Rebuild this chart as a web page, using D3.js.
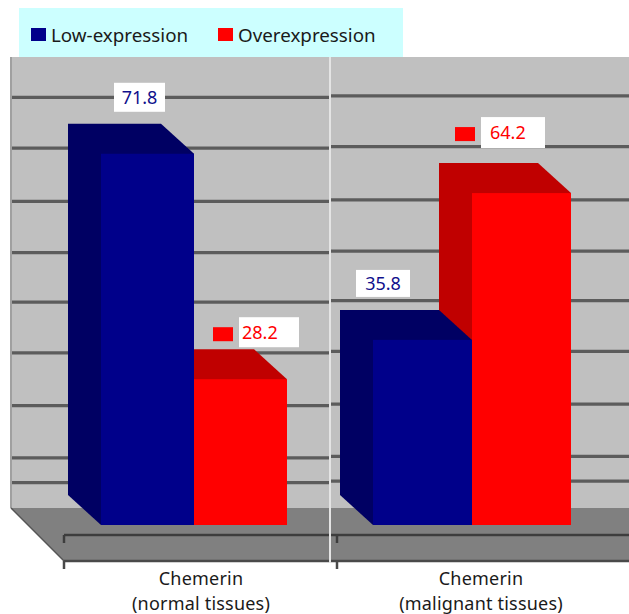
<!DOCTYPE html>
<html><head><meta charset="utf-8">
<script src="https://cdn.jsdelivr.net/npm/d3@7"></script>
<style>html,body{margin:0;padding:0;background:#fff}svg{display:block}text{font-family:"Noto Sans",sans-serif}</style>
</head><body><svg id="c" width="629" height="614"></svg>
<script>
const categories = ["Chemerin (normal tissues)", "Chemerin (malignant tissues)"];
const categoryLines = [["Chemerin","(normal tissues)"],["Chemerin","(malignant tissues)"]];
const seriesNames = ["Low-expression","Overexpression"];
const lowExpression = [71.8, 35.8];
const overExpression = [28.2, 64.2];
const gridValues = [8.2,13.0,23.1,33.3,43.1,52.7,62.6,72.9,82.7];

// layout
const W=629, H=614, wallL=10, wallT=57, wallB=508, floorB=561, depthX=33, depthY=30, divider=330;
const groupRanges=[[101,287],[373,571]];
// value box: dx, dy from the bar's front top-left corner, then width, height, text inset
const labelBoxes=[[[13,-71,51,29],[45,-62,60,30,3]],[[-17,-70,54,27],[9,-76,64,31,9]]];
const colors={front:["#00008a","#ff0000"],depth:["#000064","#c00000"]};

const svg=d3.select("#c");
svg.append("defs").append("filter").attr("id","soft").attr("x","-5%").attr("y","-5%").attr("width","110%").attr("height","110%")
  .append("feGaussianBlur").attr("stdDeviation",0.6);
const y=d3.scaleLinear().domain([0,100]).range([525,8]);
const xs=categories.map((c,i)=>d3.scaleBand().domain(seriesNames).range(groupRanges[i]));
const line=d3.line();

const g=svg.append("g").attr("filter","url(#soft)");
g.append("rect").attr("x",19).attr("y",8).attr("width",384).attr("height",49).attr("fill","#ccffff");
g.append("rect").attr("x",wallL).attr("y",wallT).attr("width",W-wallL).attr("height",wallB-wallT).attr("fill","#c0c0c0");
g.append("rect").attr("x",wallL).attr("y",wallT).attr("width",2).attr("height",wallB-wallT).attr("fill","#a0a0a0");
g.append("path").attr("d",line([[wallL+1,wallB],[W,wallB],[W,floorB],[wallL+54,floorB]])+"Z").attr("fill","#808080");
g.append("path").attr("d",line([[wallL+1,wallB],[wallL+54,floorB]])).attr("stroke","#555").attr("stroke-width",1.5).attr("fill","none");
[[12,divider,0],[divider,W,-1.5]].forEach(([a,b,dy])=>{
  g.selectAll(null).data(gridValues).join("line")
   .attr("x1",a).attr("x2",b).attr("y1",d=>y(d)+dy).attr("y2",d=>y(d)+dy)
   .attr("stroke","#5c5c5c").attr("stroke-width",3.2);
});
g.append("path").attr("d",line([[64,535],[W,535]])).attr("stroke","#3c3c3c").attr("stroke-width",2.5);
g.append("path").attr("d",line([[64,561],[W,561]])).attr("stroke","#4a4a4a").attr("stroke-width",2.5);
[64,337].forEach(x=>{
  g.append("path").attr("d",line([[x,535],[x,543]])).attr("stroke","#3c3c3c").attr("stroke-width",2.5);
  g.append("path").attr("d",line([[x,561],[x,569]])).attr("stroke","#4a4a4a").attr("stroke-width",2.5);
});
g.append("path").attr("d",line([[divider,wallT],[divider,563]])).attr("stroke","#e4e4e4").attr("stroke-width",2);

const seriesValues=[lowExpression,overExpression];
function depthPart(sel,s,i){
  const v=seriesValues[s][i], x=xs[i], x0=x(seriesNames[s]), x1=x0+x.bandwidth(), yt=y(v), yb=y(0);
  sel.append("path").attr("d",line([[x0-depthX,yt-depthY],[x1-depthX,yt-depthY],[x1,yt],[x0,yb],[x0-depthX,yb-depthY]])+"Z").attr("fill",colors.depth[s]);
}
function front(sel,s,i){
  const v=seriesValues[s][i], x=xs[i];
  sel.append("rect").attr("x",x(seriesNames[s])).attr("y",y(v)).attr("width",x.bandwidth()).attr("height",y(0)-y(v)).attr("fill",colors.front[s]);
}
categories.forEach((c,i)=>{
  depthPart(g,1,i); depthPart(g,0,i); front(g,0,i); front(g,1,i);
});

seriesValues.forEach((vals,s)=>vals.forEach((v,i)=>{
  const x0=xs[i](seriesNames[s]), yt=y(v), b=labelBoxes[i][s];
  const bx=x0+b[0], by=yt+b[1];
  g.append("rect").attr("x",bx).attr("y",by).attr("width",b[2]).attr("height",b[3]).attr("fill","#fff");
  if(s===1) g.append("rect").attr("x",bx-26).attr("y",by+10).attr("width",20).attr("height",14).attr("fill","#ff0000");
  svg.append("text").attr("x",s===0?bx+b[2]/2:bx+b[4]).attr("y",by+b[3]/2+6.5)
    .attr("text-anchor",s===0?"middle":"start").attr("font-size",18)
    .attr("fill",s===0?"#10108c":"#ff0000").text(v.toFixed(1));
}));

const lx=[31,218], tx=[51,238];
seriesNames.forEach((n,s)=>{
  g.append("rect").attr("x",lx[s]).attr("y",28).attr("width",15).attr("height",13).attr("fill",colors.front[s]);
  svg.append("text").attr("x",tx[s]).attr("y",42).attr("font-size",18.8).attr("fill","#1a1a1a").text(n);
});
categoryLines.forEach((ls,i)=>{
  const cx=i===0?201:481;
  ls.forEach((t,k)=>svg.append("text").attr("x",cx).attr("y",585+k*24.6).attr("text-anchor","middle").attr("font-size",18).attr("letter-spacing",0.2).attr("fill","#1a1a1a").text(t));
});
</script></body></html>
